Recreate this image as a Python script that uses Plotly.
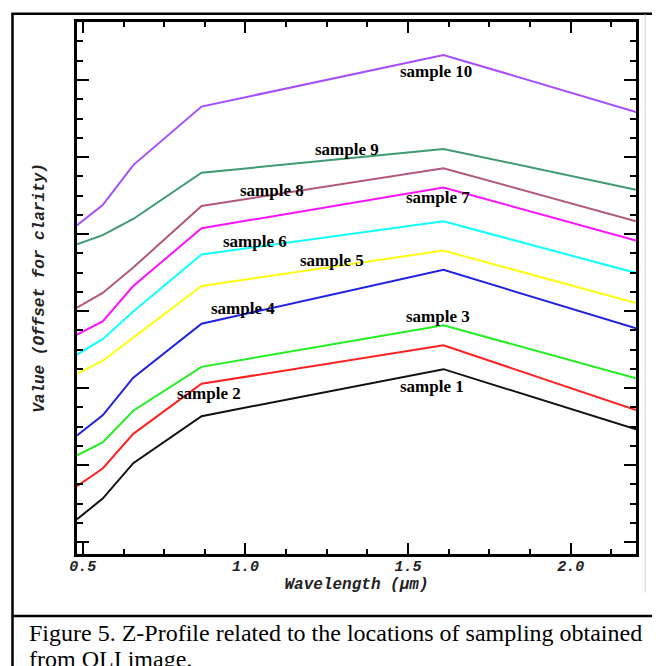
import plotly.graph_objects as go

# OLI band centres (um) used by the Z-profile
wavelength = [0.482, 0.561, 0.655, 0.865, 1.609, 2.201]

# values (offset for clarity, arbitrary units)
sample_1 = [0.45, 0.72, 1.18, 1.79, 2.40, 1.62]
sample_2 = [0.88, 1.11, 1.56, 2.21, 2.71, 1.87]
sample_3 = [1.28, 1.45, 1.86, 2.43, 2.97, 2.28]
sample_4 = [1.54, 1.80, 2.29, 2.99, 3.69, 2.93]
sample_5 = [2.34, 2.51, 2.81, 3.48, 3.94, 3.26]
sample_6 = [2.59, 2.79, 3.15, 3.89, 4.32, 3.65]
sample_7 = [2.85, 3.02, 3.48, 4.23, 4.76, 4.07]
sample_8 = [3.20, 3.39, 3.72, 4.52, 5.01, 4.32]
sample_9 = [4.02, 4.14, 4.35, 4.95, 5.26, 4.73]
sample_10 = [4.27, 4.53, 5.05, 5.81, 6.48, 5.74]

names = ["sample 1", "sample 2", "sample 3", "sample 4", "sample 5",
         "sample 6", "sample 7", "sample 8", "sample 9", "sample 10"]
series = [sample_1, sample_2, sample_3, sample_4, sample_5,
          sample_6, sample_7, sample_8, sample_9, sample_10]

colors = ["#111111", "#ff2020", "#22ee22", "#2020e0", "#ffff10",
          "#10ffff", "#ff10ff", "#b0587e", "#3f9a72", "#a64dff"]

# where each label sits (data coords)
label_pos = [(1.574, 2.17), (0.888, 2.09), (1.593, 3.09), (0.993, 3.19), (1.267, 3.81),
             (1.030, 4.06), (1.593, 4.63), (1.082, 4.72), (1.313, 5.25), (1.587, 6.27)]

fig = go.Figure()
for name, ys, c in zip(names, series, colors):
    fig.add_trace(go.Scatter(x=wavelength, y=ys, mode="lines", name=name,
                             line=dict(color=c, width=2), showlegend=False))

for name, (lx, ly) in zip(names, label_pos):
    fig.add_annotation(x=lx, y=ly, text=name, showarrow=False,
                       font=dict(family="Liberation Serif", size=17, color="black", weight="bold"))

tick_font = dict(family="Liberation Mono", size=15, color="#222", weight="bold", style="italic")
title_font = dict(family="Liberation Mono", size=16, color="#222", weight="bold", style="italic")

fig.update_xaxes(range=[0.482, 2.201], tick0=0.5, dtick=0.5, ticks="inside", ticklen=11,
                 tickwidth=2, tickcolor="black", mirror="allticks", showline=True,
                 linecolor="black", linewidth=2.5, showgrid=False, zeroline=False,
                 tickformat=".1f", tickfont=tick_font, ticklabelstandoff=-4,
                 minor=dict(dtick=0.125, tick0=0.5, ticks="inside", ticklen=5,
                            tickwidth=2, tickcolor="black", showgrid=False),
                 title=dict(text="Wavelength (µm)", font=title_font, standoff=0))
fig.update_yaxes(range=[0, 6.908], tick0=0.155, dtick=1, ticks="inside", ticklen=12,
                 tickwidth=2, tickcolor="black", mirror="allticks", showline=True,
                 linecolor="black", linewidth=2.5, showgrid=False, zeroline=False,
                 showticklabels=False,
                 minor=dict(dtick=0.25, tick0=0.155, ticks="inside", ticklen=6,
                            tickwidth=2, tickcolor="black", showgrid=False),
                 title=dict(text="Value (Offset for clarity)", font=title_font, standoff=26))

# frame round the figure and the caption rule
fig.add_shape(type="rect", xref="paper", yref="paper", x0=-0.1154, x1=1.0394,
              y0=-0.23, y1=1.0155, line=dict(color="black", width=2.5))
fig.add_shape(type="line", xref="paper", yref="paper", x0=-0.1154, x1=1.0394,
              y0=-0.1165, y1=-0.1165, line=dict(color="black", width=2.5))
fig.add_shape(type="line", xref="paper", yref="paper", x0=1.0166, x1=1.0166,
              y0=-0.073, y1=1.014, line=dict(color="#e4e4e4", width=1.5))

cap_font = dict(family="Liberation Serif", size=24, color="black")
fig.add_annotation(xref="paper", yref="paper", x=-0.0894, y=-0.148, xanchor="left",
                   yanchor="middle", showarrow=False, font=cap_font,
                   text="Figure 5. Z-Profile related to the locations of sampling obtained")
fig.add_annotation(xref="paper", yref="paper", x=-0.0894, y=-0.198, xanchor="left",
                   yanchor="middle", showarrow=False, font=cap_font,
                   text="from OLI image.")

# page body adds an 8px offset, so the figure is drawn 8px smaller and shifted
fig.update_layout(width=652, height=658, margin=dict(l=69, r=24, t=11, b=112),
                  paper_bgcolor="white", plot_bgcolor="white")

fig.write_html("out.html")
